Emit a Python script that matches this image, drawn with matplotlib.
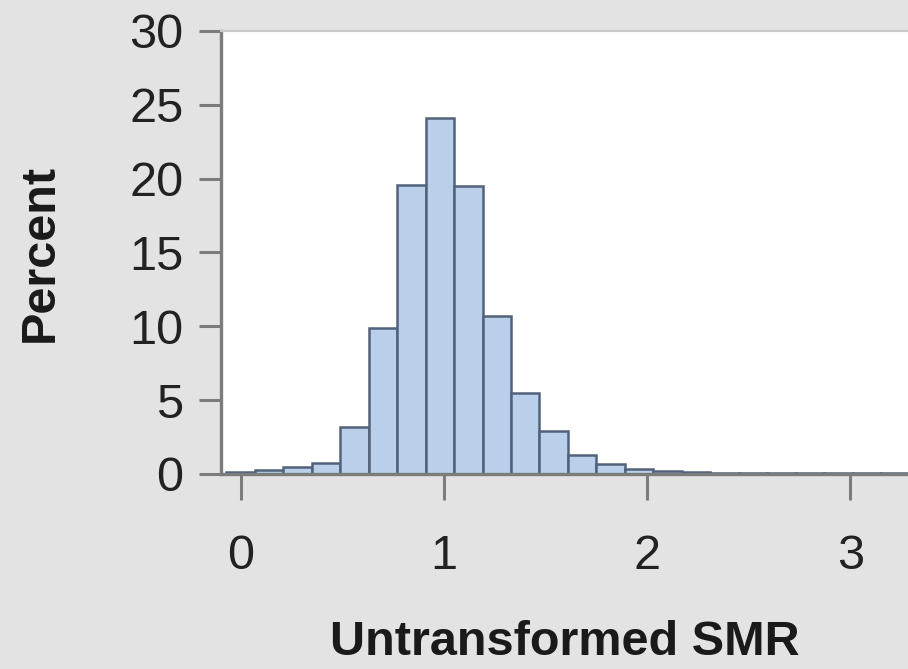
import matplotlib.pyplot as plt

# histogram of untransformed SMR, bin midpoints step 0.14
bin_mid = [0.00, 0.14, 0.28, 0.42, 0.56, 0.70, 0.84, 0.98, 1.12, 1.26, 1.40,
           1.54, 1.68, 1.82, 1.96, 2.10, 2.24, 2.38, 2.52, 2.66, 2.80, 2.94,
           3.08, 3.22]
percent = [0.12, 0.25, 0.45, 0.75, 3.2, 9.9, 19.6, 24.1, 19.5, 10.7, 5.5,
           2.9, 1.3, 0.65, 0.35, 0.2, 0.15, 0.1, 0.08, 0.06, 0.05, 0.05,
           0.04, 0.04]
x_ticks = [0, 1, 2, 3]
y_ticks = [0, 5, 10, 15, 20, 25, 30]

plt.rcParams['font.family'] = ['Liberation Sans', 'DejaVu Sans']

bg = '#e3e3e3'
spine_col = '#7c7c7c'

fig = plt.figure(figsize=(9.08, 6.69), dpi=100, facecolor=bg)
ax = fig.add_axes([0.2434, 0.2915, 0.7566, 0.6622])
ax.set_facecolor('white')

ax.bar(bin_mid, percent, width=0.14, color='#bad0ea', edgecolor='#52627a',
       linewidth=1.8)

ax.set_xlim(-0.0964, 3.283)
ax.set_ylim(0, 30)
ax.set_xticks(x_ticks)
ax.set_yticks(y_ticks)

for side in ['left', 'bottom']:
    ax.spines[side].set_color(spine_col)
    ax.spines[side].set_linewidth(2.4)
ax.spines['top'].set_color('#c8c8c8')
ax.spines['top'].set_linewidth(1.5)
ax.spines['right'].set_visible(False)

ax.tick_params(axis='y', length=16, width=2.2, color=spine_col, pad=11,
               labelsize=35, labelcolor='#222222')
ax.tick_params(axis='x', length=19, width=2.2, color=spine_col, pad=24,
               labelsize=35, labelcolor='#222222')

ax.set_xlabel('Untransformed SMR', fontsize=35, fontweight='bold',
              color='#1a1a1a', labelpad=30)
ax.set_ylabel('Percent', fontsize=35, fontweight='bold', color='#1a1a1a',
              labelpad=48)

fig.savefig('out.png', dpi=100, facecolor=bg)
